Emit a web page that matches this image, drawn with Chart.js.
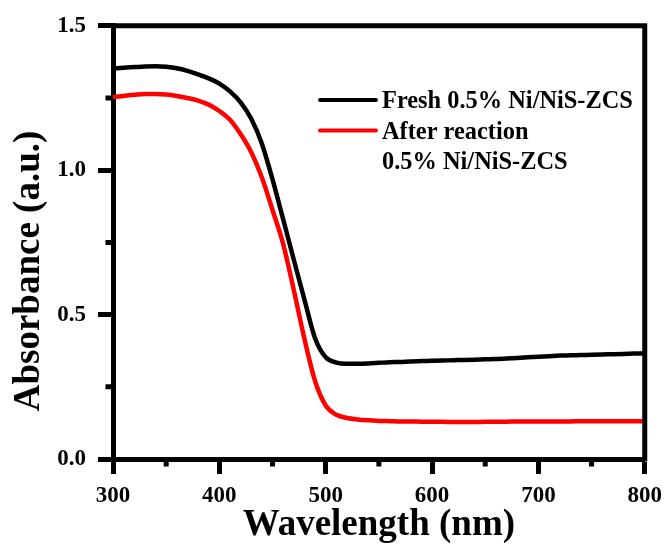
<!DOCTYPE html>
<html>
<head>
<meta charset="utf-8">
<script src="https://cdn.jsdelivr.net/npm/chart.js@4/dist/chart.umd.min.js"></script>
<style>
  html, body { margin: 0; padding: 0; background: #fff; }
  #wrap { width: 670px; height: 545px; }
</style>
</head>
<body>
<div id="wrap"><canvas id="chart" width="670" height="545"></canvas></div>
<script>
// wavelength (nm)
const wavelength = [300, 310, 320, 330, 340, 350, 360, 370, 380, 390,
  400, 410, 420, 430, 440, 450, 460, 470, 480, 490,
  500, 510, 520, 530, 540, 550, 560, 570, 580, 590,
  600, 610, 620, 630, 640, 650, 660, 670, 680, 690,
  700, 710, 720, 730, 740, 750, 760, 770, 780, 790, 800];

// absorbance, fresh sample
const fresh = [1.352, 1.355, 1.357, 1.359, 1.360, 1.358, 1.353, 1.344, 1.332, 1.318,
  1.300, 1.273, 1.235, 1.178, 1.092, 0.968, 0.830, 0.690, 0.552, 0.418,
  0.352, 0.334, 0.330, 0.330, 0.331, 0.333, 0.335, 0.336, 0.338, 0.339,
  0.340, 0.341, 0.342, 0.343, 0.344, 0.345, 0.346, 0.348, 0.350, 0.352,
  0.354, 0.356, 0.358, 0.359, 0.360, 0.361, 0.362, 0.363, 0.364, 0.365, 0.366];

// absorbance, after reaction
const afterReaction = [1.253, 1.257, 1.261, 1.264, 1.264, 1.262, 1.257, 1.250, 1.241, 1.227,
  1.205, 1.175, 1.125, 1.062, 0.975, 0.862, 0.745, 0.585, 0.416, 0.270,
  0.185, 0.153, 0.142, 0.137, 0.134, 0.132, 0.131, 0.130, 0.130, 0.129,
  0.129, 0.129, 0.128, 0.128, 0.128, 0.129, 0.129, 0.129, 0.130, 0.130,
  0.130, 0.130, 0.130, 0.130, 0.131, 0.131, 0.131, 0.131, 0.131, 0.131, 0.131];

const xTicks = [300, 400, 500, 600, 700, 800];
const xMinor = [350, 450, 550, 650, 750];
const yTicks = [0.0, 0.5, 1.0, 1.5];
const yMinor = [0.25, 0.75, 1.25];

const labelFresh = ['Fresh 0.5% Ni/NiS-ZCS'];
const labelAfter = ['After reaction', '0.5% Ni/NiS-ZCS'];

const FONT = "'Liberation Serif', 'Times New Roman', serif";
Chart.defaults.font.family = FONT;
Chart.defaults.font.weight = 'bold';
Chart.defaults.color = '#000';

const extras = {
  id: 'extras',
  afterDraw(chart) {
    const ctx = chart.ctx;
    const a = chart.chartArea;
    const xs = chart.scales.x, ys = chart.scales.y;
    ctx.save();
    ctx.strokeStyle = '#000';
    ctx.lineWidth = 5;
    ctx.lineCap = 'butt';
    // top and right frame
    ctx.beginPath();
    ctx.moveTo(a.left - 2.5, a.top);
    ctx.lineTo(a.right + 2.5, a.top);
    ctx.moveTo(a.right, a.top);
    ctx.lineTo(a.right, a.bottom + 2.5);
    ctx.stroke();
    // minor ticks
    ctx.beginPath();
    xMinor.forEach(v => {
      const px = xs.getPixelForValue(v);
      ctx.moveTo(px, a.bottom);
      ctx.lineTo(px, a.bottom + 7.5);
    });
    yMinor.forEach(v => {
      const py = ys.getPixelForValue(v);
      ctx.moveTo(a.left, py);
      ctx.lineTo(a.left - 7.5, py);
    });
    ctx.stroke();

    // legend
    const sets = chart.data.datasets;
    const rows = [100, 130.5];
    ctx.font = 'bold 24.4px ' + FONT;
    ctx.fillStyle = '#000';
    ctx.textAlign = 'left';
    ctx.textBaseline = 'alphabetic';
    sets.forEach((ds, i) => {
      const y = rows[i];
      ctx.strokeStyle = ds.borderColor;
      ctx.lineWidth = 4;
      ctx.lineCap = 'round';
      ctx.beginPath();
      ctx.moveTo(320, y);
      ctx.lineTo(376, y);
      ctx.stroke();
      ctx.fillStyle = '#000';
      ds.label.forEach((t, k) => ctx.fillText(t, 382, y + 8.3 + k * 30.3));
    });

    // axis titles
    ctx.font = 'bold 37px ' + FONT;
    ctx.textAlign = 'center';
    ctx.fillText('Wavelength (nm)', (a.left + a.right) / 2, 535);
    ctx.translate(39, 271);
    ctx.rotate(-Math.PI / 2);
    ctx.fillText('Absorbance (a.u.)', 0, 0);
    ctx.restore();
  }
};

new Chart(document.getElementById('chart'), {
  type: 'line',
  data: {
    labels: wavelength,
    datasets: [{
      label: labelFresh,
      data: fresh,
      borderColor: '#000000',
      borderWidth: 4.5,
      pointRadius: 0,
      cubicInterpolationMode: 'monotone'
    }, {
      label: labelAfter,
      data: afterReaction,
      borderColor: '#ff0000',
      borderWidth: 4.5,
      pointRadius: 0,
      cubicInterpolationMode: 'monotone'
    }]
  },
  options: {
    responsive: false,
    animation: false,
    layout: { padding: { top: 25, right: 19, left: 0, bottom: 0 } },
    plugins: { legend: { display: false }, tooltip: { enabled: false } },
    scales: {
      x: {
        type: 'linear',
        min: 300, max: 800,
        afterFit(s) { s.height = 86; },
        afterBuildTicks(s) { s.ticks = xTicks.map(v => ({ value: v })); },
        ticks: { font: { size: 23, weight: 'bold' }, padding: 8, maxRotation: 0 },
        grid: { drawOnChartArea: false, tickLength: 15, tickWidth: 5, tickColor: '#000' },
        border: { color: '#000', width: 5 }
      },
      y: {
        min: 0, max: 1.5,
        afterFit(s) { s.width = 113; },
        afterBuildTicks(s) { s.ticks = yTicks.map(v => ({ value: v })); },
        ticks: { font: { size: 23, weight: 'bold' }, padding: 12, callback: v => v.toFixed(1) },
        grid: { drawOnChartArea: false, tickLength: 15, tickWidth: 5, tickColor: '#000' },
        border: { color: '#000', width: 5 }
      }
    }
  },
  plugins: [extras]
});
</script>
</body>
</html>
